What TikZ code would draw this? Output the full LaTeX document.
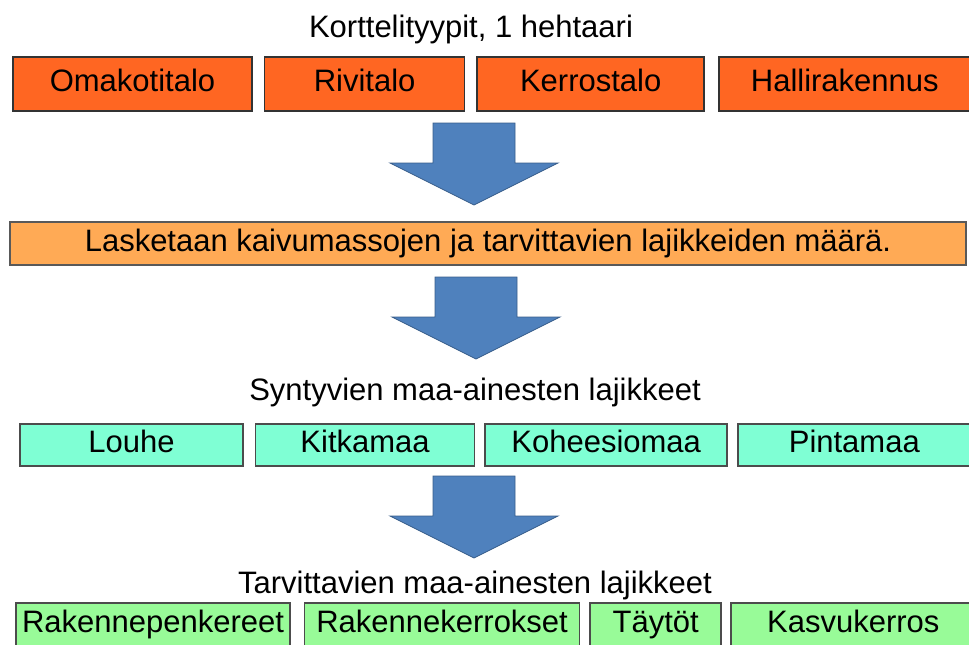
\documentclass[tikz,border=0pt]{standalone}
\usepackage{fontspec}
\setmainfont{Liberation Sans}
\usetikzlibrary{positioning}

\definecolor{talo}{RGB}{255,102,34}
\definecolor{lasku}{RGB}{255,170,85}
\definecolor{syntyvat}{RGB}{127,255,212}
\definecolor{tarvittavat}{RGB}{152,251,152}
\definecolor{nuoli}{RGB}{79,129,189}
\definecolor{nuolireuna}{RGB}{56,93,138}

\begin{document}
\begin{tikzpicture}[
    x=1pt, y=-1pt,
    box/.style={rectangle, draw=black!80, line width=1.6pt, inner sep=1pt, text height=22pt, text depth=6.5pt, font=\fontsize{31}{36}\selectfont},
    talobox/.style={box, fill=talo, minimum height=54pt},
    laskubox/.style={box, fill=lasku, draw=black!65, minimum height=43pt},
    syntybox/.style={box, fill=syntyvat, draw=black!70, minimum height=42pt},
    tarvebox/.style={box, fill=tarvittavat, draw=black!70, minimum height=44pt},
    otsikko/.style={font=\fontsize{31}{36}\selectfont},
    blockarrow/.pic={
        \filldraw[fill=nuoli, draw=nuolireuna, line width=0.8pt]
            (-41,0) -- (41,0) -- (41,40) -- (84,40) -- (0,82) -- (-84,40) -- (-41,40) -- cycle;
    }
]
\useasboundingbox (0,0) rectangle (969,645);

% Korttelityypit
\node[otsikko] (otsikko1) at (471,29) {Korttelityypit, 1 hehtaari};
\node[talobox, minimum width=239pt] (omakoti) at (132.5,84) {Omakotitalo};
\node[talobox, minimum width=200pt, right=11pt of omakoti] (rivi) {Rivitalo};
\node[talobox, minimum width=227pt, right=11pt of rivi] (kerros) {Kerrostalo};
\node[talobox, minimum width=252pt, right=13pt of kerros] (halli) {Hallirakennus};

\pic at (474,123) {blockarrow};

% Laskenta
\node[laskubox, minimum width=956pt] (lasku) at (488,243.5) {Lasketaan kaivumassojen ja tarvittavien lajikkeiden määrä.};

\pic at (476,277) {blockarrow};

% Syntyvat lajikkeet
\node[otsikko] (otsikko2) at (475,392) {Syntyvien maa-ainesten lajikkeet};
\node[syntybox, minimum width=223pt] (louhe) at (131.5,445) {Louhe};
\node[syntybox, minimum width=219pt, right=11pt of louhe] (kitka) {Kitkamaa};
\node[syntybox, minimum width=242pt, right=9pt of kitka] (kohe) {Koheesiomaa};
\node[syntybox, minimum width=233pt, right=9pt of kohe] (pinta) {Pintamaa};

\pic at (474,476) {blockarrow};

% Tarvittavat lajikkeet
\node[otsikko] (otsikko3) at (475,585) {Tarvittavien maa-ainesten lajikkeet};
\node[tarvebox, minimum width=274pt] (penger) at (153,625) {Rakennepenkereet};
\node[tarvebox, minimum width=275pt, right=13pt of penger] (kerrokset) {Rakennekerrokset};
\node[tarvebox, minimum width=131pt, right=9pt of kerrokset] (taytot) {Täytöt};
\node[tarvebox, minimum width=245pt, right=8pt of taytot] (kasvu) {Kasvukerros};

\end{tikzpicture}
\end{document}
